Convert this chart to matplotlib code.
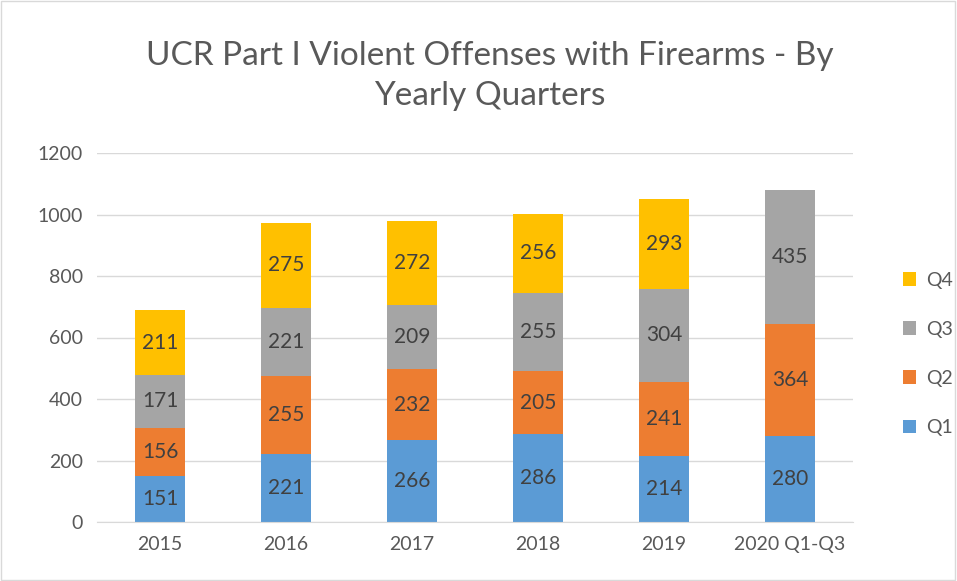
import matplotlib.pyplot as plt
import numpy as np

# data
years = ['2015', '2016', '2017', '2018', '2019', '2020 Q1-Q3']
q1 = [151, 221, 266, 286, 214, 280]
q2 = [156, 255, 232, 205, 241, 364]
q3 = [171, 221, 209, 255, 304, 435]
q4 = [211, 275, 272, 256, 293, 0]

series = [('Q1', q1, '#5B9BD5'), ('Q2', q2, '#ED7D31'),
          ('Q3', q3, '#A5A5A5'), ('Q4', q4, '#FFC000')]

plt.rcParams['font.family'] = ['Lato', 'DejaVu Sans']
txt = '#595959'

fig = plt.figure(figsize=(9.57, 5.81), dpi=100)
ax = fig.add_axes([97 / 957, 1 - 522 / 581, 756 / 957, 369 / 581])

x = np.arange(len(years))
bottom = np.zeros(len(years))
handles = []
for name, vals, col in series:
    vals = np.array(vals, dtype=float)
    bars = ax.bar(x, vals, 0.4, bottom=bottom, color=col, zorder=2)
    handles.append((bars, name))
    for xi, b, v in zip(x, bottom, vals):
        if v > 0:
            ax.text(xi, b + v / 2, f'{int(v)}', ha='center', va='center',
                    fontsize=15, color='#404040', zorder=3)
    bottom += vals

ax.set_xlim(-0.5, len(years) - 0.5)
ax.set_ylim(0, 1200)
ax.set_yticks(range(0, 1201, 200))
ax.set_xticks(x)
ax.set_xticklabels(years)
ax.tick_params(axis='both', length=0, labelsize=14, colors=txt, pad=10)
ax.grid(axis='y', color='#D9D9D9', lw=1, zorder=0)
for s in ['top', 'right', 'left']:
    ax.spines[s].set_visible(False)
ax.spines['bottom'].set_color('#D9D9D9')

fig.text(0.512, 1 - 76 / 581, 'UCR Part I Violent Offenses with Firearms - By\nYearly Quarters',
         ha='center', va='center', fontsize=24, color=txt, linespacing=1.45)

h = [hb for hb, _ in handles][::-1]
l = [n for _, n in handles][::-1]
fig.legend(h, l, loc='center left', bbox_to_anchor=(885 / 957, 1 - 354 / 581),
           frameon=False, fontsize=14, labelcolor=txt, handlelength=0.7,
           handleheight=0.7, labelspacing=1.65, handletextpad=0.5)

fig.patches.append(plt.Rectangle((0.001, 0.001), 0.997, 0.997, transform=fig.transFigure,
                                 fill=False, edgecolor='#D9D9D9', lw=1))

fig.savefig('out.png', dpi=100)
